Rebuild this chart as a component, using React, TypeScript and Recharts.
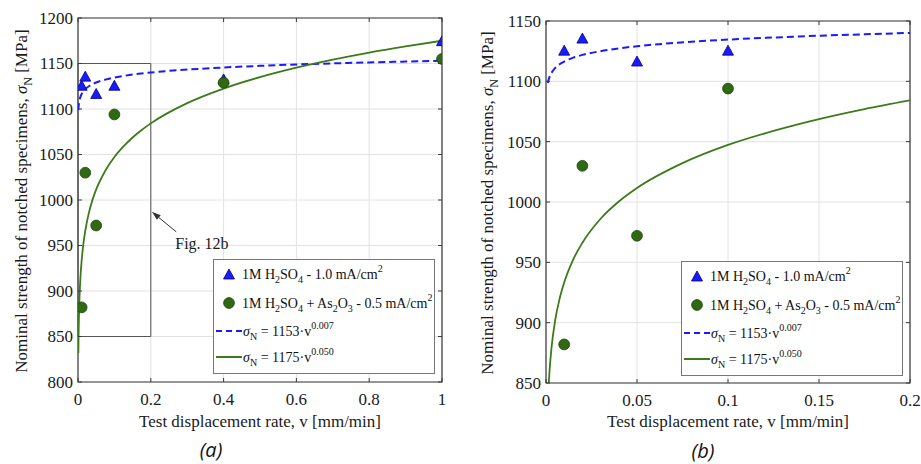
import React from "react";
import {
  ComposedChart,
  Line,
  Scatter,
  XAxis,
  YAxis,
  CartesianGrid,
  ReferenceArea,
  ReferenceLine,
  Legend,
} from "recharts";

const rateH2SO4 = [0.01, 0.02, 0.05, 0.1, 0.4, 1.0];
const strengthH2SO4 = [1125, 1135, 1116, 1125, 1132, 1174];
const rateAs2O3 = [0.01, 0.02, 0.05, 0.1, 0.4, 1.0];
const strengthAs2O3 = [882, 1030, 972, 1094, 1129, 1155];

// fitted curves, sampled along v
const fitRates = [
  0.001, 0.0015, 0.002, 0.003, 0.005, 0.0075, 0.01, 0.015, 0.02, 0.03, 0.04,
  0.05, 0.075, 0.1, 0.125, 0.15, 0.175, 0.2, 0.3, 0.4, 0.5, 0.6, 0.7, 0.8, 0.9,
  1.0,
];
const fitH2SO4 = [
  1098.6, 1101.7, 1103.9, 1107.0, 1111.0, 1114.2, 1116.4, 1119.6, 1121.9,
  1125.0, 1127.3, 1129.1, 1132.3, 1134.6, 1136.3, 1137.8, 1139.0, 1140.1,
  1143.3, 1145.6, 1147.4, 1148.9, 1150.1, 1151.2, 1152.1, 1153.0,
];
const fitAs2O3 = [
  831.8, 848.8, 861.2, 878.8, 901.6, 920.0, 933.3, 952.5, 966.2, 986.1, 1000.4,
  1011.6, 1032.2, 1047.3, 1058.9, 1068.7, 1077.0, 1084.2, 1106.4, 1122.4,
  1135.0, 1145.4, 1154.2, 1162.0, 1168.8, 1175.0,
];

const xTicksA = [0, 0.2, 0.4, 0.6, 0.8, 1];
const yTicksA = [800, 850, 900, 950, 1000, 1050, 1100, 1150, 1200];
const xTicksB = [0, 0.05, 0.1, 0.15, 0.2];
const yTicksB = [850, 900, 950, 1000, 1050, 1100, 1150];

const toPoints = (xs: number[], ys: number[]) =>
  xs.map((v, i) => ({ v, sigma: ys[i] }));

const pointsH2SO4 = toPoints(rateH2SO4, strengthH2SO4);
const pointsAs2O3 = toPoints(rateAs2O3, strengthAs2O3);
const curveH2SO4 = toPoints(fitRates, fitH2SO4);
const curveAs2O3 = toPoints(fitRates, fitAs2O3);

const SERIF = '"Liberation Serif", "Times New Roman", serif';
const BLUE = "#1a1aff";
const BLUE_EDGE = "#00007a";
const GREEN = "#3c7a1c";
const DOT_GREEN = "#2f6a12";
const DOT_EDGE = "#1c4208";
const FRAME = "#3a3a3a";

const svgText = (size: number): React.CSSProperties => ({
  fontFamily: SERIF,
  fontSize: size,
  fill: "#1a1a1a",
});

function TriangleMark(props: any) {
  const { cx, cy } = props;
  if (cx == null || cy == null) return null;
  return (
    <path
      d={`M${cx},${cy - 6} L${cx + 5.5},${cy + 4} L${cx - 5.5},${cy + 4} Z`}
      fill={BLUE}
      stroke={BLUE_EDGE}
      strokeWidth={0.8}
    />
  );
}

function CircleMark(props: any) {
  const { cx, cy } = props;
  if (cx == null || cy == null) return null;
  return (
    <circle cx={cx} cy={cy} r={5.4} fill={DOT_GREEN} stroke={DOT_EDGE} strokeWidth={0.8} />
  );
}

// arrow pointing at the inset box
function InsetArrow(props: any) {
  const { x1, y1, x2, y2 } = props;
  if (x1 == null) return null;
  const dx = x2 - x1;
  const dy = y2 - y1;
  const len = Math.sqrt(dx * dx + dy * dy);
  const ux = dx / len;
  const uy = dy / len;
  const bx = x2 - ux * 9;
  const by = y2 - uy * 9;
  return (
    <g>
      <line x1={x1} y1={y1} x2={bx} y2={by} stroke="#333" strokeWidth={1} />
      <path
        d={`M${x2},${y2} L${bx - uy * 3},${by + ux * 3} L${bx + uy * 3},${by - ux * 3} Z`}
        fill="#333"
      />
      <text x={x1 - 1} y={y1 + 17} style={svgText(16)}>
        Fig. 12b
      </text>
    </g>
  );
}

function LegendBox() {
  const sub = { fontSize: 10, verticalAlign: "-4px" } as React.CSSProperties;
  const sup = { fontSize: 10, verticalAlign: "7px" } as React.CSSProperties;
  const icon = { flexShrink: 0 } as React.CSSProperties;
  const row = (y: number): React.CSSProperties => ({
    position: "absolute",
    left: 0,
    top: y,
    height: 20,
    width: "100%",
    display: "flex",
    alignItems: "center",
    whiteSpace: "nowrap",
  });
  return (
    <div
      style={{
        position: "relative",
        width: 222,
        height: 115,
        border: "1px solid #777",
        background: "#fff",
        fontFamily: SERIF,
        fontSize: 14,
        color: "#111",
        boxSizing: "border-box",
      }}
    >
      <div style={row(4)}>
        <svg width={28} height={20} style={icon}>
          <TriangleMark cx={15} cy={11} />
        </svg>
        <span>
          1M H<sub style={sub}>2</sub>SO<sub style={sub}>4</sub> - 1.0 mA/cm
          <sup style={sup}>2</sup>
        </span>
      </div>
      <div style={row(33)}>
        <svg width={28} height={20} style={icon}>
          <CircleMark cx={15} cy={10} />
        </svg>
        <span>
          1M H<sub style={sub}>2</sub>SO<sub style={sub}>4</sub> + As
          <sub style={sub}>2</sub>O<sub style={sub}>3</sub> - 0.5 mA/cm
          <sup style={sup}>2</sup>
        </span>
      </div>
      <div style={row(61)}>
        <svg width={29} height={20} style={icon}>
          <line x1={2} x2={28} y1={10} y2={10} stroke={BLUE} strokeWidth={2} strokeDasharray="6 4" />
        </svg>
        <span>
          <i>σ</i>
          <sub style={sub}>N</sub> = 1153·v<sup style={sup}>0.007</sup>
        </span>
      </div>
      <div style={row(87)}>
        <svg width={29} height={20} style={icon}>
          <line x1={2} x2={28} y1={10} y2={10} stroke={GREEN} strokeWidth={2} />
        </svg>
        <span>
          <i>σ</i>
          <sub style={sub}>N</sub> = 1175·v<sup style={sup}>0.050</sup>
        </span>
      </div>
    </div>
  );
}

type PanelProps = {
  width: number;
  height: number;
  margin: { top: number; right: number; bottom: number; left: number };
  yAxisWidth: number;
  xDomain: [number, number];
  yDomain: [number, number];
  xTicks: number[];
  yTicks: number[];
  yLabelX: number;
  yLabelY: number;
  legendLeft: number;
  legendTop: number;
  inset?: boolean;
};

function Panel(p: PanelProps) {
  const xAxisHeight = 30;
  const plotTop = p.margin.top;
  const plotBottom = p.height - p.margin.bottom - xAxisHeight;
  const plotLeft = p.margin.left + p.yAxisWidth;
  const plotRight = p.width - p.margin.right;
  const keep = (pt: { v: number }) => pt.v <= p.xDomain[1];

  const XTick = (t: any) => (
    <g>
      <line x1={t.x} x2={t.x} y1={plotBottom} y2={plotBottom - 4} stroke={FRAME} />
      <line x1={t.x} x2={t.x} y1={plotTop} y2={plotTop + 4} stroke={FRAME} />
      <text x={t.x} y={t.y} dy="0.71em" textAnchor="middle" style={svgText(17)}>
        {String(t.payload.value)}
      </text>
    </g>
  );
  const YTick = (t: any) => (
    <g>
      <line x1={plotLeft} x2={plotLeft + 4} y1={t.y} y2={t.y} stroke={FRAME} />
      <line x1={plotRight - 4} x2={plotRight} y1={t.y} y2={t.y} stroke={FRAME} />
      <text x={t.x} y={t.y} dy="0.35em" textAnchor="end" style={svgText(17)}>
        {String(t.payload.value)}
      </text>
    </g>
  );
  const YTitle = () => (
    <text
      transform={`translate(${p.yLabelX},${p.yLabelY}) rotate(-90)`}
      textAnchor="middle"
      dy="0.35em"
      style={svgText(17)}
    >
      Nominal strength of notched specimens,{"  "}
      <tspan fontStyle="italic">σ</tspan>
      <tspan dy={5} style={{ fontSize: 12 }}>N</tspan>
      <tspan dy={-5}> [MPa]</tspan>
    </text>
  );
  const XTitle = () => (
    <text
      x={(plotLeft + plotRight) / 2}
      y={427}
      textAnchor="middle"
      style={svgText(17)}
    >
      Test displacement rate, v [mm/min]
    </text>
  );

  return (
    <ComposedChart width={p.width} height={p.height} margin={p.margin}>
      <CartesianGrid stroke="#e2e2e2" strokeWidth={1} />
      <XAxis
        type="number"
        dataKey="v"
        domain={p.xDomain}
        ticks={p.xTicks}
        interval={0}
        allowDataOverflow
        height={xAxisHeight}
        axisLine={false}
        tickLine={false}
        tickSize={0}
        tickMargin={11}
        tick={<XTick />}
        label={<XTitle />}
      />
      <YAxis
        type="number"
        dataKey="sigma"
        domain={p.yDomain}
        ticks={p.yTicks}
        interval={0}
        allowDataOverflow
        width={p.yAxisWidth}
        axisLine={false}
        tickLine={false}
        tickSize={0}
        tickMargin={5}
        tick={<YTick />}
        label={<YTitle />}
      />
      <ReferenceArea
        x1={p.xDomain[0]}
        x2={p.xDomain[1]}
        y1={p.yDomain[0]}
        y2={p.yDomain[1]}
        fill="none"
        stroke={FRAME}
        strokeWidth={1.2}
      />
      {p.inset && (
        <ReferenceArea x1={0} x2={0.2} y1={850} y2={1150} fill="none" stroke="#555" strokeWidth={1} />
      )}
      {p.inset && (
        <ReferenceLine
          segment={[
            { x: 0.27, y: 965 },
            { x: 0.203, y: 987 },
          ]}
          shape={<InsetArrow />}
        />
      )}
      <Line
        data={curveH2SO4.filter(keep)}
        dataKey="sigma"
        type="monotone"
        stroke={BLUE}
        strokeWidth={2}
        strokeDasharray="7 4"
        dot={false}
        isAnimationActive={false}
      />
      <Line
        data={curveAs2O3.filter(keep)}
        dataKey="sigma"
        type="monotone"
        stroke={GREEN}
        strokeWidth={1.8}
        dot={false}
        isAnimationActive={false}
      />
      <Scatter data={pointsH2SO4.filter(keep)} shape={<TriangleMark />} isAnimationActive={false} />
      <Scatter data={pointsAs2O3.filter(keep)} shape={<CircleMark />} isAnimationActive={false} />
      <Legend
        layout="vertical"
        align="center"
        verticalAlign="middle"
        wrapperStyle={{ left: p.legendLeft, top: p.legendTop, width: 222 }}
        content={() => <LegendBox />}
      />
    </ComposedChart>
  );
}

const captionStyle: React.CSSProperties = {
  position: "absolute",
  fontFamily: "'Open Sans', 'Noto Sans', sans-serif",
  fontStyle: "italic",
  fontSize: 20,
  lineHeight: "22px",
  color: "#111",
  transform: "translate(-50%, -50%)",
};

export default function App() {
  return (
    <div
      style={{
        position: "absolute",
        left: 0,
        top: 0,
        width: 921,
        height: 464,
        background: "#fff",
        overflow: "hidden",
      }}
    >
      <div style={{ position: "absolute", left: 0, top: 0 }}>
        <Panel
          width={460}
          height={464}
          margin={{ top: 18, right: 18, bottom: 52, left: 0 }}
          yAxisWidth={78}
          xDomain={[0, 1]}
          yDomain={[800, 1200]}
          xTicks={xTicksA}
          yTicks={yTicksA}
          yLabelX={21}
          yLabelY={201}
          legendLeft={213}
          legendTop={259}
          inset
        />
      </div>
      <div style={{ position: "absolute", left: 460, top: 0 }}>
        <Panel
          width={461}
          height={464}
          margin={{ top: 21, right: 11, bottom: 51, left: 0 }}
          yAxisWidth={86}
          xDomain={[0, 0.2]}
          yDomain={[850, 1150]}
          xTicks={xTicksB}
          yTicks={yTicksB}
          yLabelX={27}
          yLabelY={203}
          legendLeft={221}
          legendTop={261}
        />
      </div>
      <div style={{ ...captionStyle, left: 211, top: 450 }}>(a)</div>
      <div style={{ ...captionStyle, left: 703, top: 451 }}>(b)</div>
    </div>
  );
}
